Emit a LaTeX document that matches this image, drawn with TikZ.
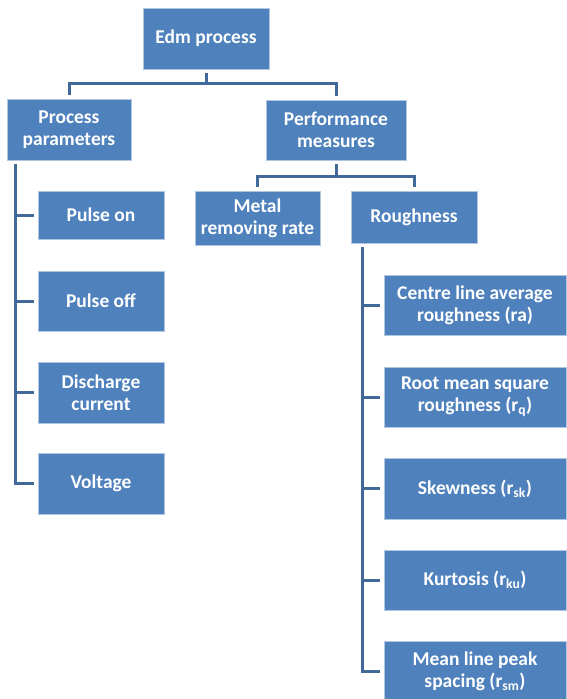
\documentclass[tikz,border=0pt]{standalone}
\usepackage{fontspec}
\setmainfont{Carlito}
\usepackage{tikz}
\usetikzlibrary{calc}
\definecolor{boxblue}{HTML}{4F81BD}
\definecolor{linkblue}{HTML}{41699A}
\tikzstyle{bloc} = [rectangle, draw=white!55!boxblue, line width=0.6pt, fill=boxblue, text=white, font=\bfseries\fontsize{19.5}{22}\selectfont, align=center, inner sep=0pt, minimum width=126pt, minimum height=60pt]
\tikzstyle{lien} = [draw=linkblue, line width=3pt, shorten <=4pt, shorten >=4pt]

\begin{document}
\begin{tikzpicture}[x=1pt, y=-1pt]

        \useasboundingbox (0,0) rectangle (566,699);

        \node (edm) [bloc, minimum height=61pt] at (206,38.5) {Edm process};

        \node (param) [bloc, minimum width=124pt, minimum height=61pt] at (69,129.5) {Process\\parameters};
        \node (perf)  [bloc, minimum width=140pt] at (336,130) {Performance\\measures};

        \node (mrr)   [bloc, minimum width=125pt, minimum height=54pt] at (257.5,218) {Metal\\removing rate};
        \node (rough) [bloc, minimum height=52pt] at (414,217) {Roughness};

        \node (pon)   [bloc, minimum height=48pt] at (101,215) {Pulse on};
        \node (poff)  [bloc] at (101,301) {Pulse off};
        \node (cour)  [bloc, minimum height=61pt] at (101,392.5) {Discharge\\current};
        \node (volt)  [bloc, minimum height=61pt] at (101,483.5) {Voltage};

        \node (ra)  [bloc, minimum width=182pt] at (475,305) {Centre line average\\roughness (ra)};
        \node (rq)  [bloc, minimum width=182pt] at (475,397) {Root mean square\\roughness (r\textsubscript{q})};
        \node (rsk) [bloc, minimum width=182pt, minimum height=61pt] at (475,488.5) {Skewness (r\textsubscript{sk})};
        \node (rku) [bloc, minimum width=182pt] at (475,580) {Kurtosis (r\textsubscript{ku})};
        \node (rsm) [bloc, minimum width=182pt] at (475,671) {Mean line peak\\spacing (r\textsubscript{sm})};

        \draw [lien] (edm.south) -- ++(0,14) -| (param.north);
        \draw [lien] (edm.south) -- ++(0,14) -| (perf.north);

        \draw [lien] (perf.south) -- ++(0,16) -| (mrr.north);
        \draw [lien] (perf.south) -- ++(0,16) -| (rough.north);

        \coordinate (gauche) at ($(param.south west) + (9,0)$);
        \foreach \n in {pon, poff, cour, volt}
            \draw [lien] (gauche) |- (\n.west);

        \coordinate (droite) at ($(rough.south west) + (12,0)$);
        \foreach \n in {ra, rq, rsk, rku, rsm}
            \draw [lien] (droite) |- (\n.west);

    \end{tikzpicture}
\end{document}
